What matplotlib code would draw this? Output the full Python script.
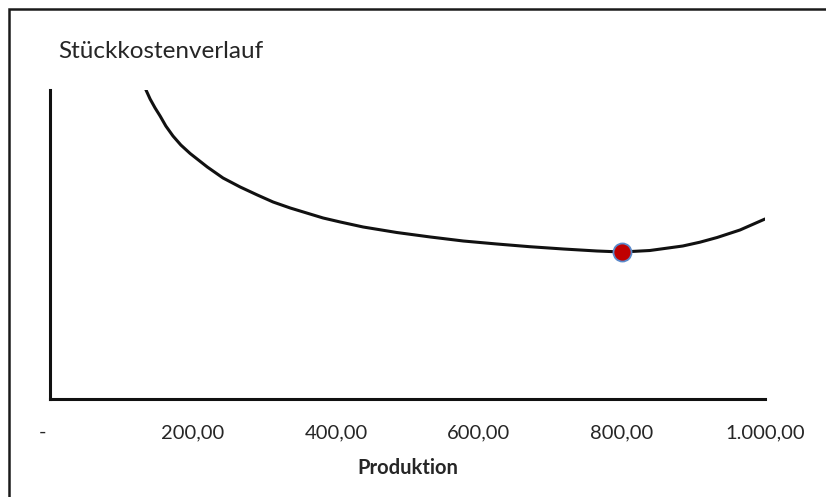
import matplotlib.pyplot as plt
from matplotlib.patches import Rectangle

# Stückkosten je Produktionsmenge (Kurve) und Minimum
produktion = [133, 140, 147, 154, 162, 172, 183, 196, 220, 242, 266, 290,
              312, 336, 359, 382, 406, 438, 485, 532, 578, 625, 671, 718,
              765, 800, 839, 885, 909, 933, 965, 1000]
stueckkosten = [311, 300, 291, 283, 273, 263, 254, 245.5, 232, 221, 212, 204,
                197, 191, 186, 181, 177, 172, 166.5, 162, 158, 155, 152.3,
                150, 148, 147, 148.5, 153, 156.8, 161.5, 169, 180]
min_x = [800]
min_y = [147]

x_ticks = [0, 200, 400, 600, 800, 1000]
x_labels = ['-   ', '200,00', '400,00', '600,00', '800,00', '1.000,00']

plt.rcParams['font.family'] = ['Lato', 'DejaVu Sans']
txt = '#262626'

fig = plt.figure(figsize=(8.26, 4.97), dpi=100)
W, H = 826, 497

# Rahmen des Diagrammbereichs
fig.patches.append(Rectangle((9 / W, -0.1), 1.0, (H - 9) / H + 0.1,
                             transform=fig.transFigure, fill=False,
                             edgecolor='#1a1a1a', linewidth=1.8))

ax = fig.add_axes([50 / W, (H - 399) / H, (765 - 50) / W, (399 - 90) / H])
ax.plot(produktion, stueckkosten, color='#111111', linewidth=2.2,
        solid_capstyle='round', solid_joinstyle='round')
ax.plot(min_x, min_y, 'o', markersize=13, markerfacecolor='#C00000',
        markeredgecolor='#5B8ACB', markeredgewidth=1.3, zorder=5)

ax.set_xlim(0, 1000)
ax.set_ylim(0, 309)
ax.set_xticks(x_ticks)
ax.set_xticklabels(x_labels)
ax.set_yticks([])
ax.tick_params(axis='x', length=0, pad=18, labelsize=14.5, labelcolor=txt)
for s in ['top', 'right']:
    ax.spines[s].set_visible(False)
for s in ['left', 'bottom']:
    ax.spines[s].set_linewidth(2.2)
    ax.spines[s].set_color('#111111')

ax.set_xlabel('Produktion', fontsize=14.5, fontweight='bold', color=txt,
              labelpad=12)
fig.text(58 / W, 1 - 52 / H, 'Stückkostenverlauf', fontsize=17.5,
         color=txt, va='center', ha='left')

fig.savefig('out.png', dpi=100)
